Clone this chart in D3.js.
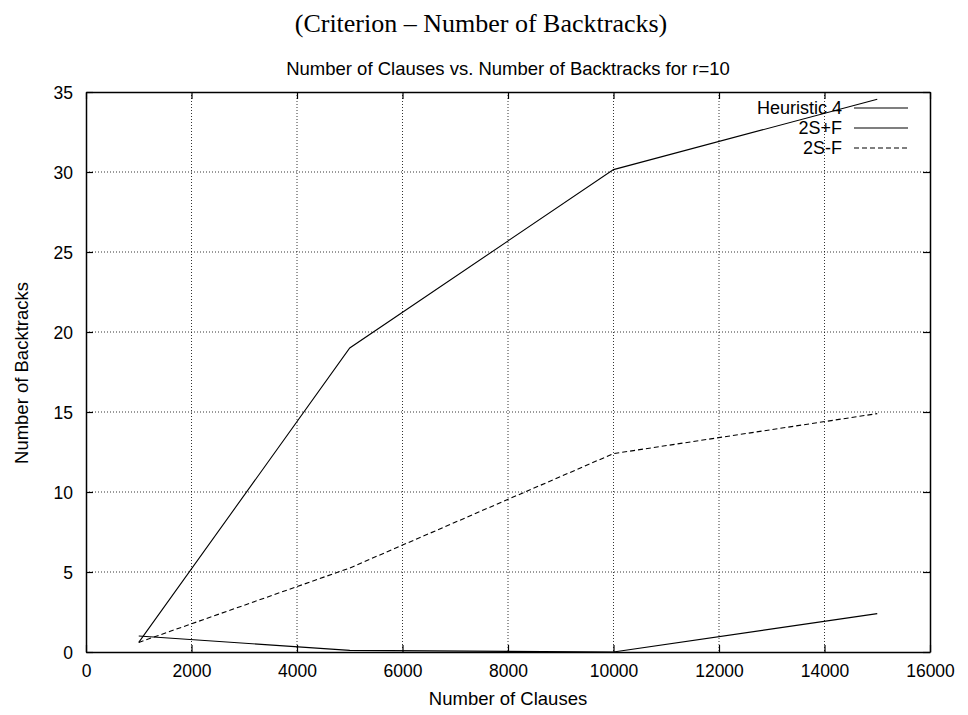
<!DOCTYPE html>
<html>
<head>
<meta charset="utf-8">
<script src="https://cdn.jsdelivr.net/npm/d3@7"></script>
<style>
  body { margin: 0; background: #fff; }
  text { fill: #000; }
</style>
</head>
<body>
<div id="chart"></div>
<script>
// data
var clauses = [1000, 5000, 10000, 15000];
var heuristic4 = [0.6, 19.0, 30.15, 34.55];
var twoSPlusF = [1.0, 0.1, 0.0, 2.4];
var twoSMinusF = [0.6, 5.25, 12.4, 14.9];
var seriesNames = ["Heuristic 4", "2S+F", "2S-F"];
var xTicks = [0, 2000, 4000, 6000, 8000, 10000, 12000, 14000, 16000];
var yTicks = [0, 5, 10, 15, 20, 25, 30, 35];

var svgWidth = 968;
var svgHeight = 715;
var margin = { top: 92, right: 38, bottom: 63, left: 86 };
var width = svgWidth - margin.left - margin.right;
var height = svgHeight - margin.top - margin.bottom;

var svg = d3.select("#chart").append("svg")
  .attr("width", svgWidth)
  .attr("height", svgHeight);

var fontFam = "Liberation Sans, Arial, sans-serif";

// page title (serif) and plot title
svg.append("text")
  .attr("x", 481).attr("y", 32)
  .attr("text-anchor", "middle")
  .attr("font-family", "Liberation Serif, serif")
  .attr("font-size", 26)
  .text("(Criterion \u2013 Number of Backtracks)");

svg.append("text")
  .attr("x", 508).attr("y", 75)
  .attr("text-anchor", "middle")
  .attr("font-family", fontFam)
  .attr("font-size", 18.5)
  .text("Number of Clauses vs. Number of Backtracks for r=10");

var chartGroup = svg.append("g")
  .attr("transform", `translate(${margin.left}, ${margin.top})`);

var x = d3.scaleLinear().domain([0, 16000]).range([0, width]);
var y = d3.scaleLinear().domain([0, 35]).range([height, 0]);

// dotted grid
chartGroup.append("g").selectAll("line")
  .data(xTicks.slice(1, -1))
  .enter().append("line")
  .attr("x1", d => x(d)).attr("x2", d => x(d))
  .attr("y1", 0).attr("y2", height)
  .attr("stroke", "#000").attr("stroke-width", 0.8)
  .attr("stroke-dasharray", "1,2");

chartGroup.append("g").selectAll("line")
  .data(yTicks.slice(1, -1))
  .enter().append("line")
  .attr("x1", 0).attr("x2", width)
  .attr("y1", d => y(d)).attr("y2", d => y(d))
  .attr("stroke", "#000").attr("stroke-width", 0.8)
  .attr("stroke-dasharray", "1,2");

// axes with inward ticks, mirrored on top and right
var xAxis = chartGroup.append("g")
  .attr("transform", `translate(0, ${height})`)
  .call(d3.axisBottom(x).tickValues(xTicks).tickFormat(d3.format("d")).tickSizeInner(-7).tickSizeOuter(0));
var yAxis = chartGroup.append("g")
  .call(d3.axisLeft(y).tickValues(yTicks).tickSizeInner(-7).tickSizeOuter(0).tickPadding(13));
var xTop = chartGroup.append("g")
  .call(d3.axisTop(x).tickValues(xTicks).tickFormat("").tickSizeInner(-7).tickSizeOuter(0));
var yRight = chartGroup.append("g")
  .attr("transform", `translate(${width}, 0)`)
  .call(d3.axisRight(y).tickValues(yTicks).tickFormat("").tickSizeInner(-7).tickSizeOuter(0));

[xAxis, yAxis, xTop, yRight].forEach(function(a) {
  a.select(".domain").attr("stroke", "#000").attr("stroke-width", 1.5);
  a.selectAll(".tick line").attr("stroke", "#000").attr("stroke-width", 1.2);
  a.selectAll("text").attr("font-family", fontFam).attr("font-size", 17.5).attr("fill", "#000");
});
xAxis.selectAll("text").attr("y", 25).attr("dy", 0);
yAxis.selectAll("text").attr("dy", "0.35em");

// axis labels
svg.append("text")
  .attr("x", 508).attr("y", 705)
  .attr("text-anchor", "middle")
  .attr("font-family", fontFam).attr("font-size", 18.5)
  .text("Number of Clauses");

svg.append("text")
  .attr("transform", "translate(28, 373) rotate(-90)")
  .attr("text-anchor", "middle")
  .attr("font-family", fontFam).attr("font-size", 18.5)
  .text("Number of Backtracks");

// lines
var allSeries = [heuristic4, twoSPlusF, twoSMinusF];
var dashes = [null, null, "5,3"];
var line = d3.line()
  .x((d, i) => x(clauses[i]))
  .y(d => y(d));

allSeries.forEach(function(vals, k) {
  chartGroup.append("path")
    .datum(vals)
    .attr("d", line)
    .attr("fill", "none")
    .attr("stroke", "#000")
    .attr("stroke-width", 1.1)
    .attr("stroke-dasharray", dashes[k]);
});

// legend
var legend = svg.append("g");
seriesNames.forEach(function(name, k) {
  var ly = 108 + k * 20;
  legend.append("text")
    .attr("x", 842).attr("y", ly)
    .attr("dy", "0.35em")
    .attr("text-anchor", "end")
    .attr("font-family", fontFam).attr("font-size", 18)
    .text(name);
  legend.append("line")
    .attr("x1", 854).attr("x2", 908)
    .attr("y1", ly).attr("y2", ly)
    .attr("stroke", "#000").attr("stroke-width", 1.1)
    .attr("stroke-dasharray", dashes[k]);
});
</script>
</body>
</html>
